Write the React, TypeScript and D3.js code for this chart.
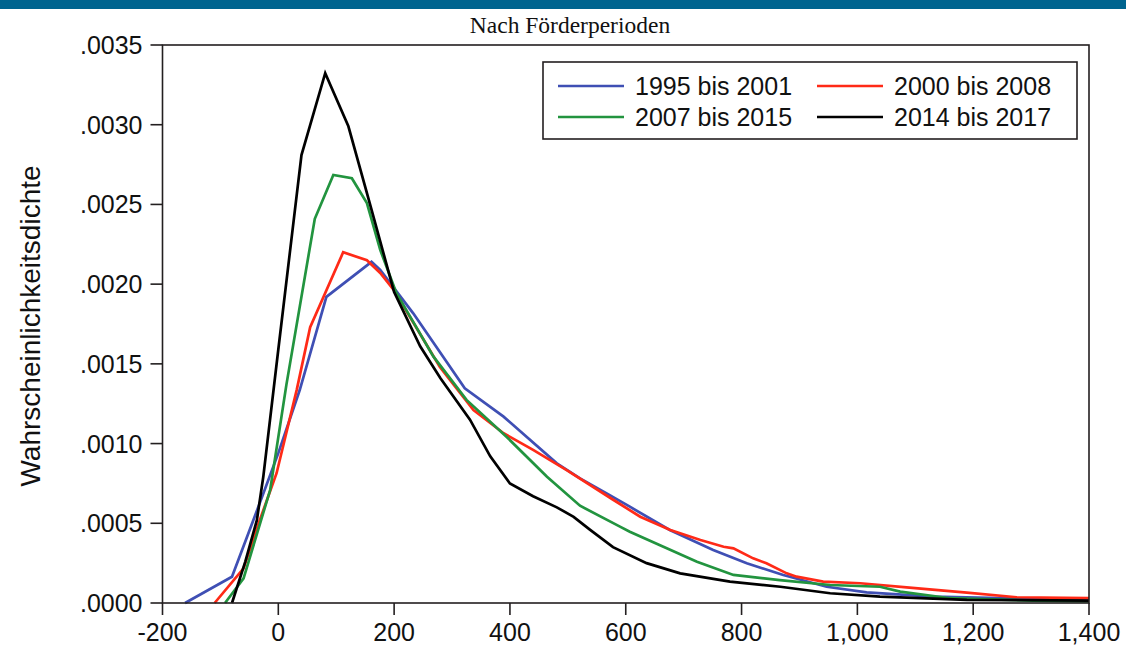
import React from "react";
import * as d3 from "d3";

const xTicks = [-200, 0, 200, 400, 600, 800, 1000, 1200, 1400];
const xTickLabels = ["-200", "0", "200", "400", "600", "800", "1,000", "1,200", "1,400"];
const yTicks = [0, 0.0005, 0.001, 0.0015, 0.002, 0.0025, 0.003, 0.0035];
const yTickLabels = [".0000", ".0005", ".0010", ".0015", ".0020", ".0025", ".0030", ".0035"];

const seriesNames = ["1995 bis 2001", "2000 bis 2008", "2007 bis 2015", "2014 bis 2017"];
const seriesColors = ["#3f4fb4", "#ff2a17", "#22943f", "#000000"];

const blueX = [-161, -80, -32, 0, 37, 83, 161, 176, 233, 322, 389, 481, 521, 567, 607, 676, 751, 809, 872, 947, 1016, 1131, 1246, 1400];
const blueY = [0, 0.000165, 0.000627, 0.00094, 0.001336, 0.00192, 0.00214, 0.00209, 0.001817, 0.001347, 0.001169, 0.000876, 0.000782, 0.000688, 0.000604, 0.000458, 0.000333, 0.000249, 0.000176, 0.000102, 0.000067, 0.00004, 0.00003, 0.000015];

const redX = [-110, -60, -32, -3, 32, 55, 112, 153, 176, 200, 279, 337, 389, 440, 498, 579, 625, 677, 729, 769, 786, 820, 843, 878, 895, 941, 1005, 1085, 1189, 1275, 1400];
const redY = [0, 0.000218, 0.00052, 0.000814, 0.00134, 0.00173, 0.0022, 0.00215, 0.00207, 0.00196, 0.00148, 0.00121, 0.001065, 0.00096, 0.000834, 0.000646, 0.000541, 0.000458, 0.000395, 0.000353, 0.000343, 0.00028, 0.000249, 0.000186, 0.000165, 0.000134, 0.000124, 0.0000985, 0.000065, 0.000036, 0.00003];

const greenX = [-92, -60, -14, 14, 63, 95, 127, 153, 176, 204, 268, 325, 394, 464, 521, 590, 607, 665, 723, 786, 866, 953, 1039, 1074, 1160, 1303, 1400];
const greenY = [0, 0.000155, 0.00071, 0.00137, 0.00241, 0.002685, 0.002664, 0.002508, 0.002215, 0.001943, 0.001545, 0.001274, 0.001043, 0.000792, 0.00061, 0.000479, 0.000447, 0.000353, 0.000259, 0.000176, 0.000144, 0.000113, 0.000102, 0.000071, 0.00003, 0.000015, 0.00001];

const blackX = [-80, -57, -37, -26, 0, 40, 81, 121, 160, 200, 245, 280, 331, 366, 400, 440, 481, 510, 538, 578, 636, 694, 780, 867, 953, 1039, 1189, 1400];
const blackY = [0, 0.00026, 0.00052, 0.00079, 0.00159, 0.00281, 0.003323, 0.00299, 0.00248, 0.00195, 0.00161, 0.00141, 0.00115, 0.00092, 0.00075, 0.00067, 0.0006, 0.00054, 0.00046, 0.00035, 0.00025, 0.000186, 0.000134, 0.000102, 0.000061, 0.00004, 0.00002, 0.000015];

const seriesX = [blueX, redX, greenX, blackX];
const seriesY = [blueY, redY, greenY, blackY];

const left = 162.5, right = 1089, top = 45, bottom = 603;
const font = "'Liberation Sans', Arial, sans-serif";

export default function App() {
  const x = d3.scaleLinear().domain([-200, 1400]).range([left, right]);
  const y = d3.scaleLinear().domain([0, 0.0035]).range([bottom, top]);
  const line = d3
    .line<[number, number]>()
    .x((d) => x(d[0]))
    .y((d) => y(d[1]));

  const legendRows = [
    { i: 0, lx: 558, ly: 86 },
    { i: 1, lx: 817, ly: 86 },
    { i: 2, lx: 558, ly: 117 },
    { i: 3, lx: 817, ly: 117 },
  ];

  return (
    <svg
      width={1126}
      height={646}
      style={{ position: "absolute", left: 0, top: 0, background: "#fff" }}
    >
      <rect x={0} y={0} width={1126} height={9} fill="#00648f" />
      <text
        x={570}
        y={33}
        textAnchor="middle"
        fontFamily="'Liberation Serif', serif"
        fontSize={23.5}
        fill="#111"
      >
        Nach Förderperioden
      </text>

      {seriesX.map((xs, i) => (
        <path
          key={i}
          d={line(xs.map((v, k) => [v, seriesY[i][k]] as [number, number])) || ""}
          fill="none"
          stroke={seriesColors[i]}
          strokeWidth={2.7}
          strokeLinejoin="miter"
        />
      ))}

      <rect
        x={left}
        y={top}
        width={right - left}
        height={bottom - top}
        fill="none"
        stroke="#231f20"
        strokeWidth={1.6}
      />

      {yTicks.map((t, i) => (
        <g key={"y" + i}>
          <line x1={left - 12} x2={left} y1={y(t)} y2={y(t)} stroke="#231f20" strokeWidth={1.6} />
          <text
            x={left - 20}
            y={y(t) + 9}
            textAnchor="end"
            fontFamily={font}
            fontSize={25}
            fill="#111"
          >
            {yTickLabels[i]}
          </text>
        </g>
      ))}

      {xTicks.map((t, i) => (
        <g key={"x" + i}>
          <line x1={x(t)} x2={x(t)} y1={bottom} y2={bottom + 12} stroke="#231f20" strokeWidth={1.6} />
          <text
            x={x(t)}
            y={641}
            textAnchor="middle"
            fontFamily={font}
            fontSize={25}
            fill="#111"
          >
            {xTickLabels[i]}
          </text>
        </g>
      ))}

      <text
        transform="translate(40,326) rotate(-90)"
        textAnchor="middle"
        fontFamily={font}
        fontSize={28}
        fill="#111"
      >
        Wahrscheinlichkeitsdichte
      </text>

      <rect x={543} y={62} width={534} height={77} fill="#fff" stroke="#231f20" strokeWidth={1.6} />
      {legendRows.map((r) => (
        <g key={"l" + r.i}>
          <line x1={r.lx} x2={r.lx + 66} y1={r.ly} y2={r.ly} stroke={seriesColors[r.i]} strokeWidth={2.7} />
          <text x={r.lx + 77} y={r.ly + 9} fontFamily={font} fontSize={25} fill="#111">
            {seriesNames[r.i]}
          </text>
        </g>
      ))}
    </svg>
  );
}
